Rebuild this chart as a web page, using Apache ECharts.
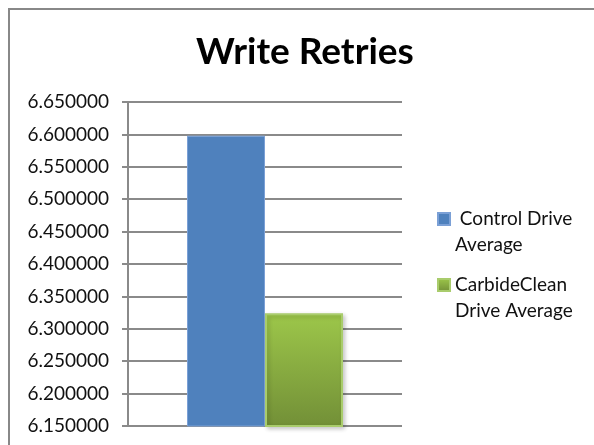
<!DOCTYPE html>
<html>
<head>
<meta charset="utf-8">
<script src="https://cdn.jsdelivr.net/npm/echarts@6/dist/echarts.min.js"></script>
<style>
html,body{margin:0;padding:0;background:#fff;}
#chart{width:594px;height:445px;}
</style>
</head>
<body>
<div id="chart"></div>
<script>
var titleText = 'Write Retries';
var categories = [''];
var seriesNames = ['Control Drive Average', 'CarbideClean Drive Average'];
var legendLabels = [' Control Drive\nAverage', 'CarbideClean\nDrive Average'];
var controlValues = [6.598];
var carbideValues = [6.324];
var yTicks = ['6.150000','6.200000','6.250000','6.300000','6.350000','6.400000','6.450000','6.500000','6.550000','6.600000','6.650000'];
var yMin = 6.15, yMax = 6.65, yStep = 0.05;

var chart = echarts.init(document.getElementById('chart'), null, {renderer:'canvas'});
var gridCol = '#8a8a8a';
var option = {
  animation: false,
  backgroundColor: '#fff',
  textStyle: {fontFamily: 'Lato'},
  title: {
    text: titleText,
    left: 191, top: 29,
    textStyle: {fontFamily: 'Lato', fontWeight: 'bold', fontSize: 37, color: '#000'}
  },
  graphic: [{
    type: 'rect', silent: true, z: -1,
    shape: {x: 9, y: 9, width: 620, height: 470},
    style: {fill: null, stroke: '#888', lineWidth: 2}
  }],
  legend: {
    orient: 'vertical',
    left: 432, top: 175,
    itemWidth: 12, itemHeight: 12, itemGap: -12,
    icon: 'rect',
    data: seriesNames,
    formatter: function (n) { return '\n' + legendLabels[seriesNames.indexOf(n)]; },
    textStyle: {fontFamily: 'Lato', fontSize: 19, color: '#111', lineHeight: 26}
  },
  grid: {left: 128, top: 102, right: 192, bottom: 19, containLabel: false},
  xAxis: {
    type: 'category', data: categories,
    axisLine: {show: false}, axisTick: {show: false}, axisLabel: {show: false}
  },
  yAxis: {
    type: 'value', min: yMin, max: yMax, interval: yStep,
    axisLine: {show: true, lineStyle: {color: gridCol, width: 2}},
    axisTick: {show: true, length: 6, lineStyle: {color: gridCol, width: 2}},
    splitLine: {show: true, lineStyle: {color: gridCol, width: 2}},
    axisLabel: {
      margin: 19, fontFamily: 'Lato', fontSize: 19, color: '#111',
      formatter: function (v) {
        var i = Math.round((v - yMin) / yStep);
        return yTicks[i];
      }
    }
  },
  series: [{
    name: seriesNames[0], type: 'bar', data: controlValues,
    barWidth: 78, barGap: '0%',
    itemStyle: {color: '#4f81bd', borderColor: '#7ba0d6', borderWidth: 1}
  }, {
    name: seriesNames[1], type: 'bar', data: carbideValues,
    barWidth: 78, barGap: '0%',
    itemStyle: {
      color: new echarts.graphic.LinearGradient(0, 0, 0, 1, [
        {offset: 0, color: '#9dc74a'}, {offset: 1, color: '#728f37'}
      ]),
      borderColor: '#a9cc6c', borderWidth: 2,
      shadowColor: 'rgba(0,0,0,0.2)', shadowBlur: 4, shadowOffsetX: 2, shadowOffsetY: 2
    }
  }]
};
chart.setOption(option);
</script>
</body>
</html>
